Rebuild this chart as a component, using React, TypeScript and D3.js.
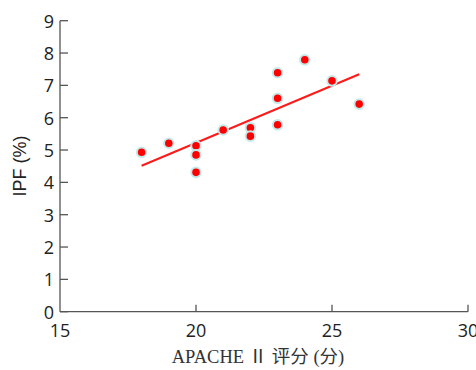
import React from "react";
import * as d3 from "d3";

const apacheScores = [18, 19, 20, 20, 20, 21, 22, 22, 23, 23, 23, 24, 25, 26];
const ipfValues = [4.93, 5.21, 5.13, 4.85, 4.31, 5.62, 5.69, 5.43, 7.39, 6.6, 5.78, 7.79, 7.14, 6.42];
const xTicks = [15, 20, 25, 30];
const yTicks = [0, 1, 2, 3, 4, 5, 6, 7, 8, 9];

const W = 476;
const H = 370;

export default function App() {
  const x = d3.scaleLinear().domain([15, 30]).range([60, 468]);
  const y = d3.scaleLinear().domain([0, 9]).range([311.7, 20.7]);

  const pts = apacheScores.map((a, i) => [a, ipfValues[i]] as [number, number]);
  const mx = d3.mean(apacheScores)!;
  const my = d3.mean(ipfValues)!;
  const sxy = d3.sum(pts, (p) => (p[0] - mx) * (p[1] - my));
  const sxx = d3.sum(pts, (p) => (p[0] - mx) ** 2);
  const slope = sxy / sxx;
  const icpt = my - slope * mx;
  const [x0, x1] = d3.extent(apacheScores) as [number, number];
  const line = d3
    .line<[number, number]>()
    .x((d) => x(d[0]))
    .y((d) => y(d[1]));
  const fitPath = line([
    [x0, icpt + slope * x0],
    [x1, icpt + slope * x1],
  ]);

  const axisColor = "#555";
  const tickFont = "'Open Sans', 'DejaVu Sans', sans-serif";

  return (
    <svg
      width={W}
      height={H}
      style={{ position: "absolute", left: 0, top: 0, background: "#fff" }}
    >
      {/* y axis */}
      <line x1={x(15)} x2={x(15)} y1={y(0)} y2={y(9)} stroke={axisColor} strokeWidth={1.3} />
      {yTicks.map((t) => (
        <g key={"y" + t}>
          <line x1={x(15)} x2={x(15) + 8} y1={y(t)} y2={y(t)} stroke={axisColor} strokeWidth={1.3} />
          <text
            x={x(15) - 6}
            y={y(t)}
            textAnchor="end"
            dominantBaseline="central"
            fontFamily={tickFont}
            fontSize={18}
            fill="#222"
          >
            {t}
          </text>
        </g>
      ))}
      {/* x axis */}
      <line x1={x(15)} x2={x(30)} y1={y(0)} y2={y(0)} stroke={axisColor} strokeWidth={1.3} />
      {xTicks.map((t) => (
        <g key={"x" + t}>
          {t !== 15 && (
            <line x1={x(t)} x2={x(t)} y1={y(0)} y2={y(0) - 7} stroke={axisColor} strokeWidth={1.3} />
          )}
          <text
            x={x(t)}
            y={329.5}
            textAnchor="middle"
            dominantBaseline="central"
            fontFamily={tickFont}
            fontSize={18}
            fill="#222"
          >
            {t}
          </text>
        </g>
      ))}
      {/* regression line */}
      <path d={fitPath!} stroke="#ff1a1a" strokeWidth={2} fill="none" />
      {/* points */}
      {pts.map((p, i) => (
        <circle
          key={i}
          cx={x(p[0])}
          cy={y(p[1])}
          r={4.8}
          fill="#ff0000"
          stroke="#c2eaea"
          strokeWidth={2}
        />
      ))}
      {/* axis titles */}
      <text
        x={258}
        y={363}
        textAnchor="middle"
        fontFamily="'Liberation Serif', 'Noto Sans CJK SC', serif"
        fontSize={18.5}
        fill="#333"
      >
        APACHE Ⅱ 评分 (分)
      </text>
      <text
        transform={`translate(26, 166) rotate(-90)`}
        textAnchor="middle"
        fontFamily="'Liberation Sans', 'DejaVu Sans', sans-serif"
        fontSize={18}
        fill="#222"
      >
        IPF (%)
      </text>
    </svg>
  );
}
